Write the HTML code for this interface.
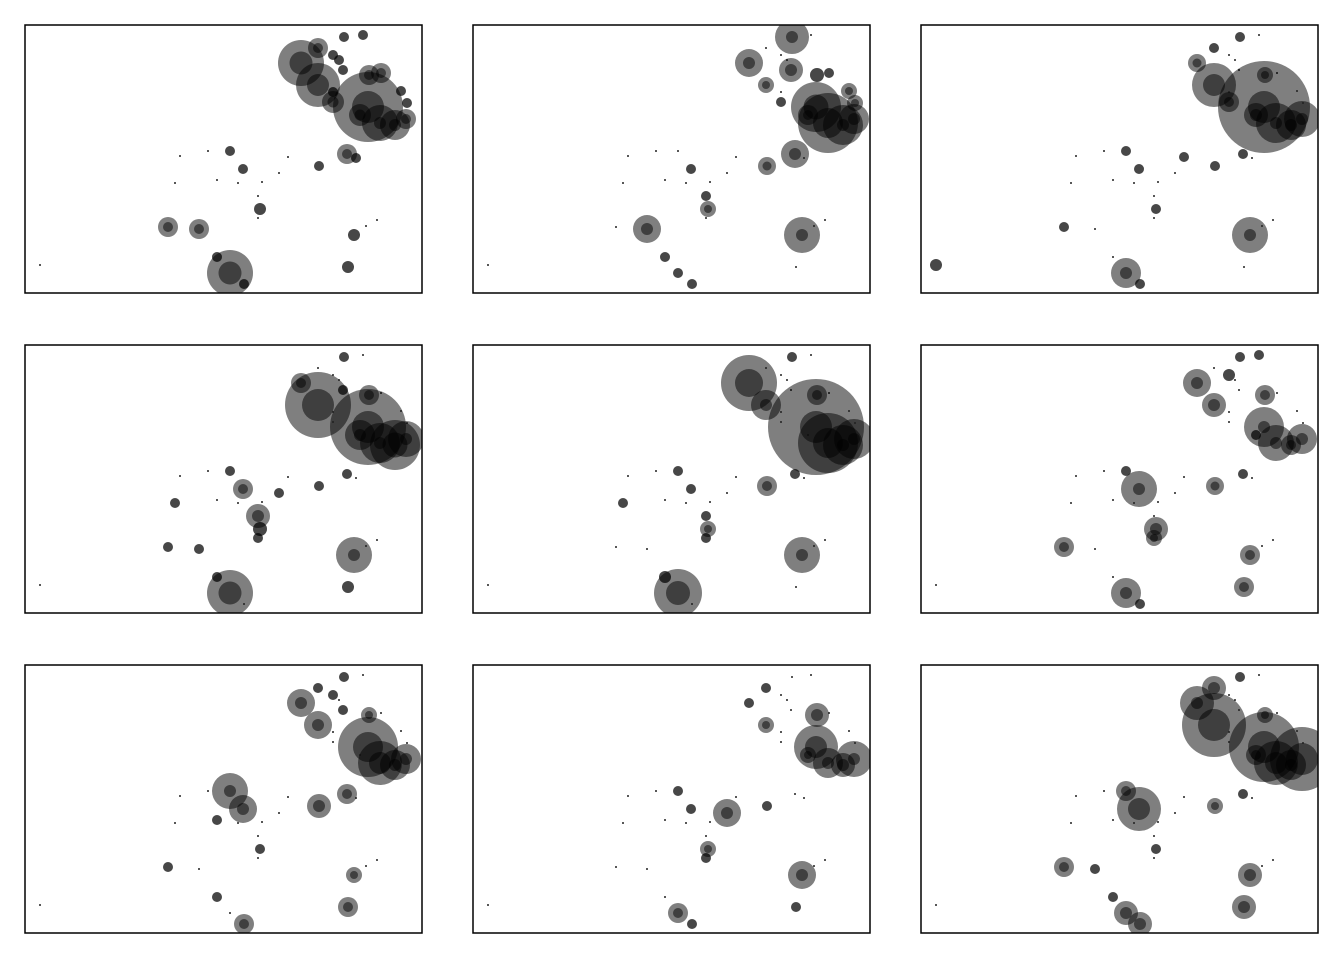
<!DOCTYPE html>
<html><head><meta charset="utf-8"><style>
html,body{margin:0;padding:0;background:#fff;}
svg{display:block;font-family:"Liberation Sans",sans-serif;}
</style></head><body>
<svg id="chart" width="1344" height="960" viewBox="0 0 1344 960" xmlns="http://www.w3.org/2000/svg"></svg>
<script>
const xs = [15,155,183,205,218,150,192,213,237,254,263,233,235,233,143,174,205,192,219,294,322,331,329,341,352,323,276,293,308,314,318,319,338,344,356,343,335,355,381,376,382,293,308,370,308];
const ys = [240,131,126,126,144,158,155,158,157,148,132,171,184,193,202,204,248,232,259,141,129,133,210,201,195,242,38,60,30,35,45,12,10,50,48,82,90,98,94,66,78,23,67,100,77];
const size1 = [1,1,1,5,5,1,1,1,1,1,1,1,6,1,10,10,23,5,5,5,10,5,6,1,1,6,23,22,5,5,5,5,5,10,10,35,11,18,10,5,5,10,5,15,11];
const size2 = [1,1,1,1,5,1,1,1,1,1,1,5,8,1,1,14,5,5,5,9,14,1,18,1,1,1,14,8,1,1,12,17,1,7,5,25,10,30,15,8,8,1,1,20,5];
const size3 = [6,1,1,5,5,1,1,1,1,1,5,1,5,1,5,1,15,1,5,5,5,1,18,1,1,1,9,22,1,1,1,5,1,8,1,46,12,20,18,1,1,5,1,15,10];
const size4 = [1,1,1,5,10,5,1,1,1,5,1,12,7,5,5,5,23,5,1,5,5,1,18,1,1,6,10,33,1,1,5,5,1,10,1,38,15,20,18,1,1,1,1,25,1];
const size5 = [1,1,1,5,5,5,1,1,1,1,1,5,8,5,1,1,24,6,1,10,5,1,18,1,1,1,28,15,1,1,1,5,1,10,1,48,1,30,20,1,1,1,1,20,1];
const size6 = [1,1,1,5,18,1,1,1,1,1,1,1,12,8,10,1,15,1,5,9,5,1,10,1,1,10,14,12,6,1,1,5,5,10,1,20,5,18,15,1,1,1,1,10,1];
const size7 = [1,1,1,18,14,1,5,1,1,1,1,1,5,1,5,1,1,5,10,12,10,1,8,1,1,10,14,14,5,1,5,5,1,8,1,30,1,22,15,1,1,5,1,15,1];
const size8 = [1,1,1,5,5,1,1,1,1,14,1,1,8,5,1,1,10,1,5,5,1,1,14,1,1,5,5,8,1,1,1,1,1,12,1,22,8,15,18,1,1,5,1,12,1];
const size9 = [1,1,1,10,22,1,1,1,1,1,1,1,5,1,10,5,12,5,12,8,5,1,12,1,1,12,17,32,1,1,1,5,1,8,1,35,10,22,32,1,1,12,1,15,1];
const panelSizes = [size1,size2,size3,size4,size5,size6,size7,size8,size9];

const NS = "http://www.w3.org/2000/svg";
const svg = document.getElementById('chart');
const PW = 397, PH = 268;
const colLeft = [25,473,921], rowTop = [25,345,665];
const defs = document.createElementNS(NS,'defs');
svg.appendChild(defs);
panelSizes.forEach((sizes, p) => {
  const left = colLeft[p % 3], top = rowTop[Math.floor(p / 3)];
  const xScale = v => left + v * PW / 397;
  const yScale = v => top + v * PH / 268;
  const clip = document.createElementNS(NS,'clipPath');
  clip.setAttribute('id','clip' + p);
  const cr = document.createElementNS(NS,'rect');
  cr.setAttribute('x',left); cr.setAttribute('y',top);
  cr.setAttribute('width',PW); cr.setAttribute('height',PH);
  clip.appendChild(cr); defs.appendChild(clip);
  const g = document.createElementNS(NS,'g');
  
  
  g.setAttribute('clip-path','url(#clip' + p + ')');
  svg.appendChild(g);
  sizes.forEach((r, i) => {
    const c = document.createElementNS(NS,'circle');
    
    
    c.setAttribute('cx', xScale(xs[i]));
    c.setAttribute('cy', yScale(ys[i]));
    c.setAttribute('r', r);
    c.setAttribute('fill', r <= 1 ? '#222' : (r <= 7 ? 'rgba(0,0,0,0.72)' : 'rgba(0,0,0,0.5)'));
    g.appendChild(c);
    if (r >= 8) {
      const core = document.createElementNS(NS,'circle');
      
      
      core.setAttribute('cx', xScale(xs[i]));
      core.setAttribute('cy', yScale(ys[i]));
      core.setAttribute('r', Math.min(r * 0.5, r > 20 ? 16 : 6));
      core.setAttribute('fill', 'rgba(0,0,0,0.5)');
      g.appendChild(core);
    }
  });
  const frame = document.createElementNS(NS,'rect');
  
  
  frame.setAttribute('x',left); frame.setAttribute('y',top);
  frame.setAttribute('width',PW); frame.setAttribute('height',PH);
  frame.setAttribute('fill','none'); frame.setAttribute('stroke','#000'); frame.setAttribute('stroke-width','1.5');
  svg.appendChild(frame);
});
</script>
</body></html>
